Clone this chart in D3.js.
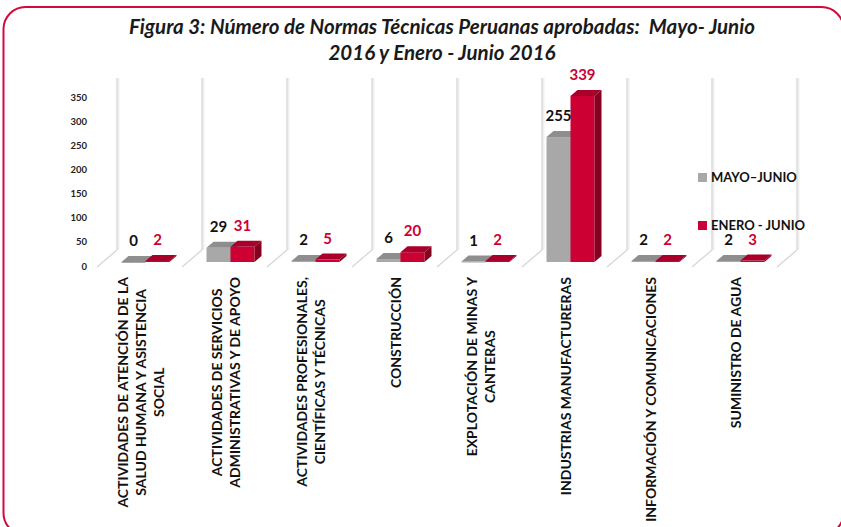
<!DOCTYPE html>
<html>
<head>
<meta charset="utf-8">
<script src="https://cdn.jsdelivr.net/npm/d3@7"></script>
<style>
  body { margin: 0; background: #fff; }
  svg { display: block; font-family: Lato, "Open Sans", sans-serif; }
</style>
</head>
<body>
<svg id="chart" width="841" height="527"></svg>
<script>
// data
const categories = [
  "ACTIVIDADES DE ATENCIÓN DE LA\nSALUD HUMANA Y ASISTENCIA\nSOCIAL",
  "ACTIVIDADES DE SERVICIOS\nADMINISTRATIVAS Y DE APOYO",
  "ACTIVIDADES PROFESIONALES,\nCIENTÍFICAS Y TÉCNICAS",
  "CONSTRUCCIÓN",
  "EXPLOTACIÓN DE MINAS Y\nCANTERAS",
  "INDUSTRIAS MANUFACTURERAS",
  "INFORMACIÓN Y COMUNICACIONES",
  "SUMINISTRO DE AGUA"
];
const mayoJunio = [0, 29, 2, 6, 1, 255, 2, 2];
const eneroJunio = [2, 31, 5, 20, 2, 339, 2, 3];
const seriesNames = ["MAYO\u2013JUNIO", "ENERO - JUNIO"];
const yTicks = [0, 50, 100, 150, 200, 250, 300, 350];
const titleLines = [
  "Figura 3: Número de Normas Técnicas Peruanas aprobadas:  Mayo- Junio",
  "2016 y Enero - Junio 2016"
];

const svg = d3.select("#chart");
const RED = "#cc0033";

// ! frame
svg.append("rect")
  .attr("x", 3.5).attr("y", 7).attr("width", 840).attr("height", 528)
  .attr("rx", 22).attr("ry", 22)
  .attr("fill", "none").attr("stroke", "#d10a3e").attr("stroke-width", 2);

// ! title
svg.append("g").selectAll("text").data(titleLines).join("text")
  .attr("x", 442).attr("y", (d, i) => 34 + i * 26)
  .attr("text-anchor", "middle")
  .attr("font-size", 20.5).attr("font-weight", "bold").attr("font-style", "italic")
  .attr("fill", "#1a1a1a")
  .style("white-space", "pre")
  .text(d => d);

// ! scales
const x = d3.scaleBand().domain(categories).range([97, 777]).padding(0);
const y = d3.scaleLinear().domain([0, 350]).range([262, 262 - 0.49 * 350]);
const yAxisScale = d3.scaleLinear().domain([0, 350]).range([266, 97]);
const depth = {dx: 20, dy: 17};   // floor depth
const bar = {w: 24, dx: 7, dy: 6}; // bar depth

// ! back walls and floor lines
const grid = svg.append("g");
const edges = categories.map(c => x(c)).concat([x(categories[categories.length - 1]) + x.bandwidth()]);
edges.forEach(ex => {
  const bx = ex + depth.dx, by = y(0) - 12;
  grid.append("line").attr("x1", bx + 1.5).attr("x2", bx + 1.5).attr("y1", 78).attr("y2", by)
    .attr("stroke", "#efefef").attr("stroke-width", 2);
  grid.append("line").attr("x1", bx).attr("x2", bx).attr("y1", 78).attr("y2", by)
    .attr("stroke", "#d6d6d6").attr("stroke-width", 1.3);
  grid.append("line").attr("x1", bx).attr("y1", by).attr("x2", ex).attr("y2", by + depth.dy)
    .attr("stroke", "#d6d6d6").attr("stroke-width", 1.3);
});

// ! y axis labels
svg.append("g")
  .attr("transform", "translate(87,0)")
  .call(d3.axisLeft(yAxisScale).tickValues(yTicks).tickSize(0).tickPadding(0))
  .call(g => g.select(".domain").remove())
  .selectAll("text")
  .attr("font-family", "Lato, 'Open Sans', sans-serif")
  .attr("font-size", 9.5).attr("font-weight", "bold").attr("fill", "#222");

// ! 3d column
function drawColumn(g, x0, v, c) {
  const yt = y(v), y0 = y(0);
  const w = bar.w, dx = bar.dx, dy = bar.dy;
  g.append("rect").attr("x", x0).attr("y", yt).attr("width", w).attr("height", Math.max(1, y0 - yt))
    .attr("fill", c.front);
  g.append("polygon")
    .attr("points", [[x0, yt], [x0 + w, yt], [x0 + w + dx, yt - dy], [x0 + dx, yt - dy]].join(" "))
    .attr("fill", c.top);
  g.append("polygon")
    .attr("points", [[x0 + w, yt], [x0 + w + dx, yt - dy], [x0 + w + dx, y0 - dy], [x0 + w, y0]].join(" "))
    .attr("fill", c.side);
}

const grayC = {front: "#a8a8a8", top: "#8e8e8e", side: "#7a7a7a"};
const redC = {front: RED, top: "#a8002b", side: "#86001f"};

const bars = svg.append("g");
const labels = svg.append("g").attr("font-weight", "bold").attr("font-size", 15).attr("text-anchor", "middle");
categories.forEach((c, i) => {
  const gc = x(c) + x.bandwidth() / 2 + 6;
  drawColumn(bars, gc - bar.w, mayoJunio[i], grayC);
  drawColumn(bars, gc, eneroJunio[i], redC);
  labels.append("text").attr("x", gc - bar.w / 2).attr("y", y(mayoJunio[i]) - 16)
    .attr("fill", "#111").text(mayoJunio[i]);
  labels.append("text").attr("x", gc + bar.w / 2).attr("y", y(eneroJunio[i]) - 16)
    .attr("fill", RED).text(eneroJunio[i]);
});

// ! category labels (rotated, top aligned, lines centred)
const catG = svg.append("g");
categories.forEach(c => {
  const lines = c.split("\n");
  const g = catG.append("g")
    .attr("transform", `translate(${x(c) + x.bandwidth() / 2 + 1},277) rotate(-90)`);
  const t = g.selectAll("text").data(lines).join("text")
    .attr("font-size", 14).attr("font-weight", "bold").attr("fill", "#111")
    .attr("text-anchor", "middle").attr("dominant-baseline", "central")
    .attr("y", (d, k) => (k - (lines.length - 1) / 2) * 18)
    .text(d => d);
  let maxLen = 0;
  t.each(function() { maxLen = Math.max(maxLen, this.getComputedTextLength()); });
  t.attr("x", -maxLen / 2);
});

// ! legend
const legend = svg.append("g");
[grayC.front, RED].forEach((col, i) => {
  legend.append("rect").attr("x", 698).attr("y", 173 + i * 48).attr("width", 9).attr("height", 9).attr("fill", col);
  legend.append("text").attr("x", 711).attr("y", 182 + i * 48)
    .attr("font-size", 13).attr("font-weight", "bold").attr("fill", "#111")
    .text(seriesNames[i]);
});
</script>
</body>
</html>
